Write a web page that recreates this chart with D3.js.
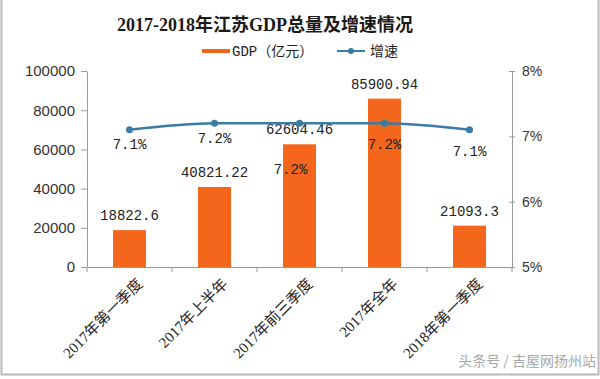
<!DOCTYPE html>
<html>
<head>
<meta charset="utf-8">
<script src="https://cdn.jsdelivr.net/npm/d3@7"></script>
<style>
  body { margin: 0; background: #fff; }
  svg { display: block; }
</style>
</head>
<body>
<div id="chart"></div>
<script>
// data
const periods = ["2017年第一季度", "2017年上半年", "2017年前三季度", "2017年全年", "2018年第一季度"];
const gdp = [18822.6, 40821.22, 62604.46, 85900.94, 21093.3];
const growth = [7.1, 7.2, 7.2, 7.2, 7.1];
const gdpTicks = [0, 20000, 40000, 60000, 80000, 100000];
const growthTicks = [5, 6, 7, 8];

// growth label offsets below point (label placement as in original)
const growthLabelDy = [19, 20, 51, 26, 26];

const width = 600, height = 379;
const margin = { top: 71, right: 88, bottom: 112, left: 87 };
const orange = "#f4661c", blue = "#3b7ca6", axisCol = "#9a9a9a";
const serif = "'Liberation Mono', 'DejaVu Sans Mono', 'Noto Sans CJK SC', monospace";

const svg = d3.select("#chart")
  .append("svg")
  .attr("width", width)
  .attr("height", height);

// frame
svg.append("rect")
  .attr("x", 1.5).attr("y", -2)
  .attr("width", width - 3).attr("height", height - 2.5)
  .attr("fill", "none")
  .attr("stroke", "#b8b8b8")
  .attr("stroke-width", 2);

const x = d3.scaleBand()
  .domain(periods)
  .range([margin.left, width - margin.right]);

const yL = d3.scaleLinear()
  .domain([0, 100000])
  .range([height - margin.bottom, margin.top]);

const yR = d3.scaleLinear()
  .domain([5, 8])
  .range([height - margin.bottom, margin.top]);

// title
svg.append("text")
  .attr("x", 265).attr("y", 31)
  .attr("text-anchor", "middle")
  .attr("font-family", "'Liberation Serif', 'Noto Sans CJK SC', serif")
  .attr("font-weight", "bold")
  .attr("font-size", 18)
  .attr("fill", "#1a1a1a")
  .text("2017-2018年江苏GDP总量及增速情况");

// legend
const lg = svg.append("g").attr("font-family", serif).attr("font-size", 14).attr("fill", "#222");
lg.append("rect").attr("x", 202).attr("y", 49).attr("width", 28).attr("height", 4).attr("fill", orange);
lg.append("text").attr("x", 232).attr("y", 56).text("GDP（亿元）");
lg.append("line").attr("x1", 337).attr("x2", 365).attr("y1", 51).attr("y2", 51)
  .attr("stroke", blue).attr("stroke-width", 2);
lg.append("circle").attr("cx", 351).attr("cy", 51).attr("r", 3).attr("fill", blue);
lg.append("text").attr("x", 370).attr("y", 56)
  .attr("font-family", "'Noto Sans CJK SC', sans-serif").text("增速");

// left axis
const axL = svg.append("g")
  .attr("transform", `translate(${margin.left},0)`)
  .call(d3.axisLeft(yL).tickValues(gdpTicks).tickFormat(d3.format("d")).tickSize(6).tickSizeOuter(0).tickPadding(6));
axL.selectAll("text").attr("font-family", "'Liberation Sans', Arial, sans-serif").attr("font-size", 15).attr("fill", "#333");

// right axis
const axR = svg.append("g")
  .attr("transform", `translate(${width - margin.right},0)`)
  .call(d3.axisRight(yR).tickValues(growthTicks).tickFormat(d => d + "%").tickSize(0).tickSizeOuter(0).tickPadding(10));
axR.selectAll("text").attr("font-family", "'Liberation Sans', Arial, sans-serif").attr("font-size", 14).attr("fill", "#333");
axR.selectAll(".tick").append("line").attr("x1", -3).attr("x2", 3).attr("stroke", axisCol);

// bottom axis
const axB = svg.append("g")
  .attr("transform", `translate(0,${height - margin.bottom})`)
  .call(d3.axisBottom(x).tickSize(0).tickFormat(""));
const bounds = d3.range(periods.length + 1).map(i => margin.left + i * x.step());
axB.selectAll(".edge").data(bounds).enter().append("line")
  .attr("class", "edge")
  .attr("x1", d => d).attr("x2", d => d)
  .attr("y1", 0).attr("y2", 5)
  .attr("stroke", axisCol);

svg.selectAll(".domain").attr("stroke", axisCol);
svg.selectAll(".tick line").attr("stroke", axisCol);

// x labels rotated
svg.append("g").selectAll("text")
  .data(periods).enter().append("text")
  .attr("transform", d => `translate(${x(d) + x.bandwidth() / 2 + 14},${height - margin.bottom + 18}) rotate(-45)`)
  .attr("text-anchor", "end")
  .attr("font-family", "'Liberation Serif', 'Noto Sans CJK SC', serif")
  .attr("font-size", 15)
  .attr("fill", "#222")
  .text(d => d);

// bars
const barW = 33;
svg.append("g").selectAll("rect")
  .data(gdp).enter().append("rect")
  .attr("x", (d, i) => x(periods[i]) + x.bandwidth() / 2 - barW / 2)
  .attr("y", d => yL(d))
  .attr("width", barW)
  .attr("height", d => yL(0) - yL(d))
  .attr("fill", orange);

svg.append("g").selectAll("text")
  .data(gdp).enter().append("text")
  .attr("x", (d, i) => x(periods[i]) + x.bandwidth() / 2)
  .attr("y", d => yL(d) - 10)
  .attr("text-anchor", "middle")
  .attr("font-family", serif)
  .attr("font-size", 14)
  .attr("fill", "#222")
  .text(d => d);

// growth line
const line = d3.line()
  .x((d, i) => x(periods[i]) + x.bandwidth() / 2)
  .y(d => yR(d))
  .curve(d3.curveMonotoneX);

svg.append("path")
  .datum(growth)
  .attr("d", line)
  .attr("fill", "none")
  .attr("stroke", blue)
  .attr("stroke-width", 2.5);

svg.append("g").selectAll("circle")
  .data(growth).enter().append("circle")
  .attr("cx", (d, i) => x(periods[i]) + x.bandwidth() / 2)
  .attr("cy", d => yR(d))
  .attr("r", 3.5)
  .attr("fill", blue);

svg.append("g").selectAll("text")
  .data(growth).enter().append("text")
  .attr("x", (d, i) => x(periods[i]) + x.bandwidth() / 2 - (i === 2 ? 9 : 0))
  .attr("y", (d, i) => yR(d) + growthLabelDy[i])
  .attr("text-anchor", "middle")
  .attr("font-family", serif)
  .attr("font-size", 14)
  .attr("fill", "#222")
  .text(d => d.toFixed(1) + "%");

// footer
svg.append("text")
  .attr("x", 596).attr("y", 366)
  .attr("text-anchor", "end")
  .attr("font-family", "'Noto Sans CJK SC', sans-serif")
  .attr("font-size", 14)
  .attr("fill", "#a8a8a8")
  .text("头条号 / 吉屋网扬州站");
</script>
</body>
</html>
